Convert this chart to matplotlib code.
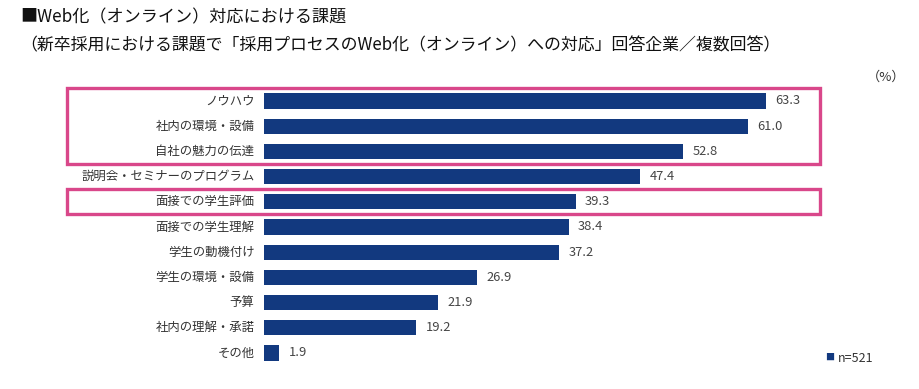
import matplotlib
matplotlib.use("Agg")
import matplotlib.pyplot as plt
from matplotlib.patches import Rectangle

plt.rcParams['font.family'] = ['Noto Sans CJK JP', 'DejaVu Sans']

categories = ["ノウハウ", "社内の環境・設備", "自社の魅力の伝達", "説明会・セミナーのプログラム",
              "面接での学生評価", "面接での学生理解", "学生の動機付け", "学生の環境・設備",
              "予算", "社内の理解・承諾", "その他"]
values = [63.3, 61.0, 52.8, 47.4, 39.3, 38.4, 37.2, 26.9, 21.9, 19.2, 1.9]
title = "■Web化（オンライン）対応における課題"
subtitle = "（新卒採用における課題で「採用プロセスのWeb化（オンライン）への対応」回答企業／複数回答）"
unit_label = "（%）"
legend_label = "n=521"
highlight_groups = [(0, 2), (4, 4)]

W, H = 920, 389
fig = plt.figure(figsize=(W / 100, H / 100), dpi=100)

bar_color = "#12397f"
pink = "#d9478a"

# axes geometry (pixels)
x0 = 264
px_per_unit = 7.93
xmax = (W - x0) / px_per_unit
y_top_center, spacing = 101, 25.2
y_top = y_top_center - spacing / 2
y_bot = y_top_center + spacing * (len(categories) - 1) + spacing / 2
ax = fig.add_axes([x0 / W, 1 - y_bot / H, (W - x0) / W, (y_bot - y_top) / H])
ax.set_xlim(0, xmax)
ax.set_ylim(len(categories) - 0.5, -0.5)
ax.axis("off")

ys = list(range(len(categories)))
ax.barh(ys, values, height=0.6, color=bar_color)
for y, v, c in zip(ys, values, categories):
    ax.text(v + 1.2, y, f"{v:.1f}", va="center", ha="left", fontsize=9.3, color="#454545")
    ax.text(-1.2, y, c, va="center", ha="right", fontsize=8.9, color="#333333")

left_d = (67 - x0) / px_per_unit
right_d = (820 - x0) / px_per_unit
for a, b in highlight_groups:
    ax.add_patch(Rectangle((left_d, a - 0.52), right_d - left_d, (b - a) + 1.02,
                           fill=False, edgecolor=pink, linewidth=2.4, clip_on=False))

fig.text(20 / W, 1 - 17 / H, title, fontsize=12.3, va="center", ha="left", color="#111111")
fig.text(20 / W, 1 - 45 / H, subtitle, fontsize=12.2, va="center", ha="left", color="#111111")
fig.text(886 / W, 1 - 77 / H, unit_label, fontsize=9.5, va="center", ha="center", color="#333333")
fig.text(830 / W, 1 - 357 / H, "■", fontsize=6.5, va="center", ha="center", color=bar_color)
fig.text(838 / W, 1 - 358 / H, legend_label, fontsize=9, va="center", ha="left", color="#333333")

fig.savefig("out.png", dpi=100)
